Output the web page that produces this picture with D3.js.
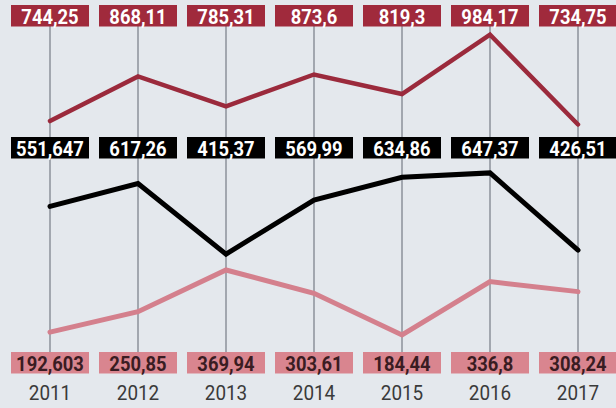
<!DOCTYPE html>
<html>
<head>
<meta charset="utf-8">
<script src="https://cdn.jsdelivr.net/npm/d3@7"></script>
<style>
  html, body { margin: 0; padding: 0; background: #e4e8ed; }
  svg { display: block; }
</style>
</head>
<body>
<div id="chart"></div>
<script>
const years = ["2011", "2012", "2013", "2014", "2015", "2016", "2017"];
const topValues = [744.25, 868.11, 785.31, 873.6, 819.3, 984.17, 734.75];
const topLabels = ["744,25", "868,11", "785,31", "873,6", "819,3", "984,17", "734,75"];
const midValues = [551.647, 617.26, 415.37, 569.99, 634.86, 647.37, 426.51];
const midLabels = ["551,647", "617,26", "415,37", "569,99", "634,86", "647,37", "426,51"];
const lowValues = [192.603, 250.85, 369.94, 303.61, 184.44, 336.8, 308.24];
const lowLabels = ["192,603", "250,85", "369,94", "303,61", "184,44", "336,8", "308,24"];

const W = 616, H = 408;
const svg = d3.select("#chart").append("svg").attr("width", W).attr("height", H);
svg.append("rect").attr("width", W).attr("height", H).attr("fill", "#e4e8ed");

const x = d3.scalePoint().domain(years).range([50, 578]);
const yTop = d3.scaleLinear().domain([0, 1000]).range([389, 29]);
const yMain = d3.scaleLinear().domain([0, 1000]).range([399.5, 49.5]);

// vertical grid lines
svg.append("g").selectAll("line").data(years).join("line")
  .attr("x1", d => x(d)).attr("x2", d => x(d))
  .attr("y1", 26).attr("y2", 353)
  .attr("stroke", "#8c929a").attr("stroke-width", 1.5);

function drawLine(values, scale, color, width) {
  const line = d3.line().x((d, i) => x(years[i])).y(d => scale(d));
  svg.append("path").datum(values)
    .attr("d", line).attr("fill", "none")
    .attr("stroke", color).attr("stroke-width", width)
    .attr("stroke-linejoin", "miter").attr("stroke-linecap", "round");
}
drawLine(lowValues, yMain, "#d4808d", 5);
drawLine(midValues, yMain, "#000000", 5);
drawLine(topValues, yTop, "#9b2a3c", 4.5);

function drawLabels(labels, yBox, boxColor, textColor) {
  const g = svg.append("g").selectAll("g").data(labels).join("g")
    .attr("transform", (d, i) => `translate(${x(years[i])},${yBox})`);
  g.append("rect").attr("x", -39).attr("y", 0).attr("width", 78).attr("height", 21.5)
    .attr("fill", boxColor);
  g.append("text").text(d => d)
    .attr("x", 0).attr("y", 18.5)
    .attr("text-anchor", "middle")
    .attr("font-family", "Roboto, 'Open Sans', sans-serif")
    .attr("font-weight", "bold").attr("font-size", 20)
    .attr("transform", "scale(0.92,1)")
    .attr("fill", textColor);
}
drawLabels(topLabels, 5, "#a02a3c", "#ffffff");
drawLabels(midLabels, 137, "#000000", "#ffffff");
drawLabels(lowLabels, 352, "#d9858f", "#3a1c22");

svg.append("g").selectAll("text").data(years).join("text")
  .text(d => d)
  .attr("transform", d => `translate(${x(d)},399.5) scale(0.9,1)`)
  .attr("text-anchor", "middle")
  .attr("font-family", "Roboto, 'Open Sans', sans-serif")
  .attr("font-size", 21)
  .attr("fill", "#3a3a3a");
</script>
</body>
</html>
